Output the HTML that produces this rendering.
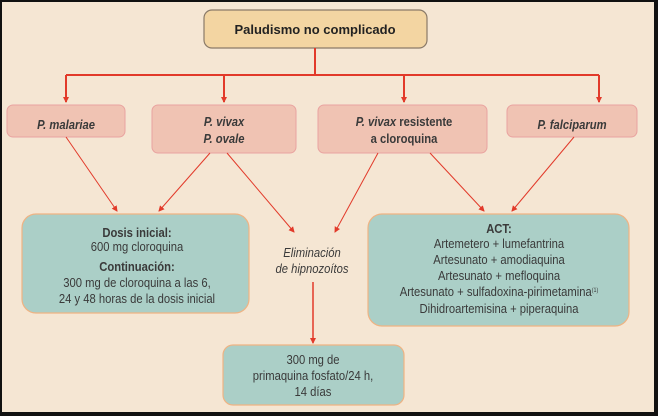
<!DOCTYPE html>
<html><head><meta charset="utf-8"><style>
html,body{margin:0;padding:0;background:#000;}
svg{display:block}
text{font-family:"Liberation Sans",sans-serif;font-size:12.5px;fill:#3a3a3a;text-anchor:middle;transform-box:fill-box;transform-origin:center;transform:scaleX(0.9)}
.i{font-style:italic;font-weight:bold}
.b{font-weight:bold}
text.t{transform:none}
</style></head><body>
<svg width="658" height="416" viewBox="0 0 658 416" xmlns="http://www.w3.org/2000/svg">
<defs><marker id="a" markerWidth="6" markerHeight="6" refX="5" refY="3" orient="auto" markerUnits="userSpaceOnUse"><path d="M0,0 L6,3 L0,6 z" fill="#e23a2a"/></marker></defs>
<rect x="0" y="0" width="658" height="416" fill="#111"/>
<rect x="2" y="2" width="652" height="410" fill="#f5e6d3"/>
<rect x="204" y="10" width="223" height="38" rx="8" fill="#f3d5a2" stroke="#8a7a68" stroke-width="1.2"/>
<text x="315" y="34" class="b t" style="font-size:13px;fill:#222">Paludismo no complicado</text>
<g stroke="#e23a2a" stroke-width="2" fill="none">
<path d="M315 48 V75 M66 75 H599"/>
<path d="M66 75 V102" marker-end="url(#a)"/>
<path d="M224 75 V102" marker-end="url(#a)"/>
<path d="M404 75 V102" marker-end="url(#a)"/>
<path d="M599 75 V102" marker-end="url(#a)"/>
</g>
<g fill="#f0c3b3" stroke="#e9a3a0" stroke-width="1">
<rect x="7" y="105" width="118" height="32" rx="6"/>
<rect x="152" y="105" width="144" height="48" rx="6"/>
<rect x="318" y="105" width="169" height="48" rx="6"/>
<rect x="507" y="105" width="130" height="32" rx="6"/>
</g>
<text x="66" y="129" class="i">P. malariae</text>
<text x="224" y="126" class="i">P. vivax</text>
<text x="224" y="143" class="i">P. ovale</text>
<text x="404" y="126" class="b"><tspan font-style="italic">P. vivax</tspan> resistente</text>
<text x="404" y="143" class="b">a cloroquina</text>
<text x="572" y="129" class="i">P. falciparum</text>
<g stroke="#e23a2a" stroke-width="1" fill="none">
<path d="M66 137 L117 211" marker-end="url(#a)"/>
<path d="M210 153 L159 211" marker-end="url(#a)"/>
<path d="M227 153 L294 232" marker-end="url(#a)"/>
<path d="M378 153 L335 232" marker-end="url(#a)"/>
<path d="M430 153 L484 211" marker-end="url(#a)"/>
<path d="M574 137 L512 211" marker-end="url(#a)"/>
<path d="M313 282 V343" stroke-width="1.5" marker-end="url(#a)"/>
</g>
<g fill="#abcfc7" stroke="#efb383" stroke-width="1.2">
<rect x="22" y="214" width="227" height="99" rx="14"/>
<rect x="368" y="214" width="261" height="112" rx="14"/>
<rect x="223" y="345" width="181" height="60" rx="10"/>
</g>
<text x="137" y="237" class="b">Dosis inicial:</text>
<text x="137" y="251">600 mg cloroquina</text>
<text x="137" y="271" class="b">Continuación:</text>
<text x="137" y="287">300 mg de cloroquina a las 6,</text>
<text x="137" y="303">24 y 48 horas de la dosis inicial</text>
<text x="312" y="257" font-style="italic">Eliminación</text>
<text x="312" y="273" font-style="italic">de hipnozoítos</text>
<text x="499" y="233" class="b">ACT:</text>
<text x="499" y="248">Artemetero + lumefantrina</text>
<text x="499" y="264">Artesunato + amodiaquina</text>
<text x="499" y="280">Artesunato + mefloquina</text>
<text x="499" y="296">Artesunato + sulfadoxina-pirimetamina<tspan font-size="6" dy="-4">(1)</tspan></text>
<text x="499" y="313">Dihidroartemisina + piperaquina</text>
<text x="313" y="364">300 mg de</text>
<text x="313" y="380">primaquina fosfato/24 h,</text>
<text x="313" y="396">14 días</text>
</svg>
</body></html>
